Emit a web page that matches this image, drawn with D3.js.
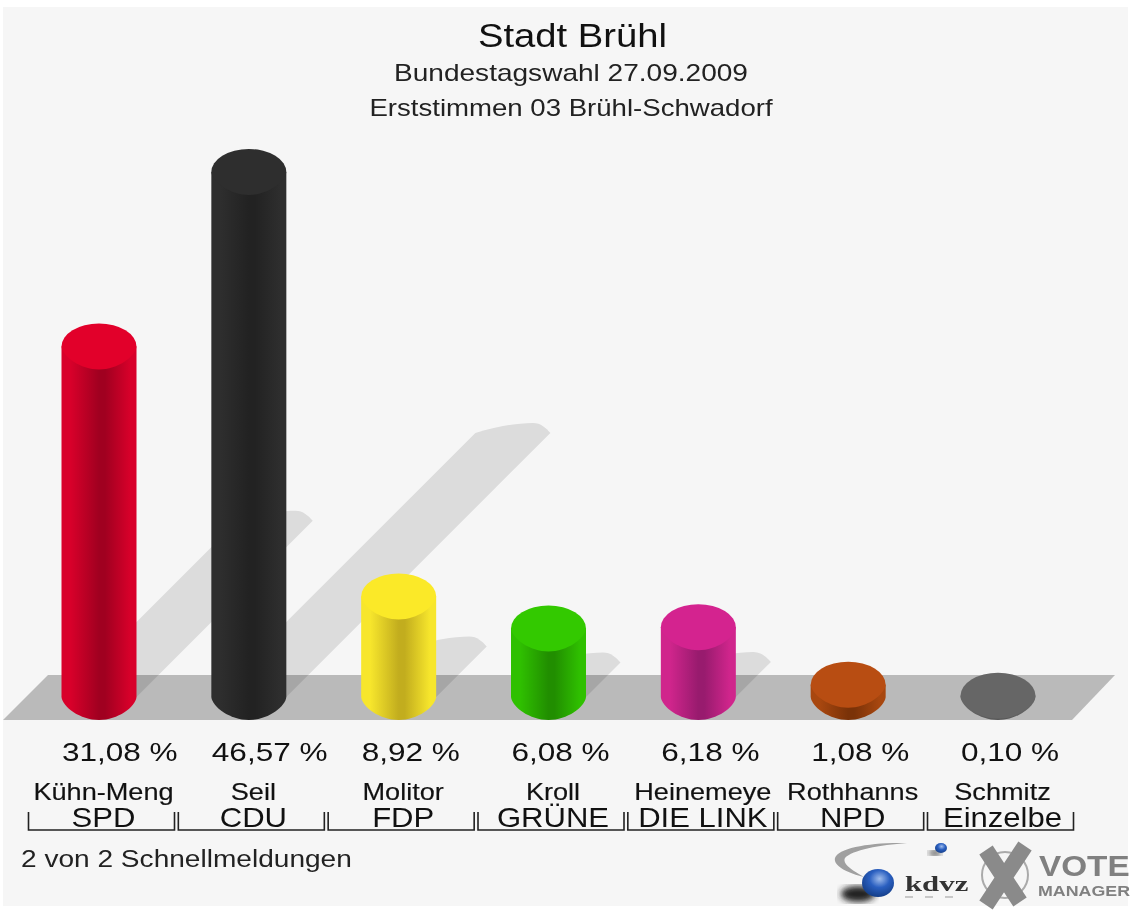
<!DOCTYPE html>
<html><head><meta charset="utf-8">
<script src="https://cdn.jsdelivr.net/npm/d3@7"></script>
<style>html,body{margin:0;padding:0;background:#fff}svg{display:block;filter:blur(0.55px)}text{font-family:"Liberation Sans",Arial,sans-serif}</style>
</head><body><svg id="c" width="1131" height="913"></svg>
<script>
const titleLines = ["Stadt Brühl","Bundestagswahl 27.09.2009","Erststimmen 03 Brühl-Schwadorf"];
const candidates = ["Kühn-Meng","Seil","Molitor","Kroll","Heinemeye","Rothhanns","Schmitz"];
const parties = ["SPD","CDU","FDP","GRÜNE","DIE LINK","NPD","Einzelbe"];
const values = [31.08,46.57,8.92,6.08,6.18,1.08,0.10];
const valueLabels = ["31,08 %","46,57 %","8,92 %","6,08 %","6,18 %","1,08 %","0,10 %"];
const capColors = ["#e2002a","#2e2e2e","#fbe928","#33c900","#d4238f","#b84d12","#666666"];
const edgeColors = ["#d8002a","#2e2e2e","#f7e62c","#2fc000","#d0258c","#a8470f","#666666"];
const midColors = ["#a00020","#222222","#c2ad1e","#218e00","#981b6e","#7a3208","#555555"];
const footer = "2 von 2 Schnellmeldungen";

const svg = d3.select("#c");
const defs = svg.append("defs");
const x = d3.scalePoint().domain(parties).range([99,998]);
const y = d3.scaleLinear().domain([0,46.57]).range([697,172]);
const rx = 37.5, ry = 23;

// Text stretched horizontally, as in the upscaled reference
function label(parent, str, tx, ty, size, sx, anchor, fill, weight){
  return parent.append("text")
    .attr("transform",`translate(${tx},${ty}) scale(${sx},1)`)
    .attr("text-anchor",anchor||"middle")
    .attr("font-size",size)
    .attr("fill",fill||"#111")
    .attr("font-weight",weight||"normal")
    .text(str);
}
// lower half of a cross-section: convex, slightly flatter than an ellipse
const lowerCurve = (cx,b)=>`C${cx+rx-1},${b+10} ${cx+rx*0.5},${b+ry} ${cx},${b+ry}C${cx-rx*0.5},${b+ry} ${cx-rx+1},${b+10} ${cx-rx},${b}`;

svg.append("rect").attr("width",1131).attr("height",913).attr("fill","#fff");
svg.append("rect").attr("x",3).attr("y",7).attr("width",1125).attr("height",899).attr("fill","#f6f6f6");

// title
const tg = svg.append("g");
label(tg,titleLines[0],572.5,47,34,1.125,"middle","#111");
label(tg,titleLines[1],571,81,23,1.22,"middle","#222");
label(tg,titleLines[2],571,116,23,1.2,"middle","#222");

// floor
svg.append("path").attr("d",d3.line()([[3,720],[48,675],[1115,675],[1072,720]])+"Z").attr("fill","#bababa");

// shadows
const shG = svg.append("g").attr("fill","#000").attr("fill-opacity",0.105);
parties.forEach((p,i)=>{
  if(values[i]<2) return;
  const h = y(0)-y(values[i]);
  const cx = x(p), d = h*0.503;
  const ex = cx+d, ey = y(0)-d;
  shG.append("path").attr("d",
   `M${cx-rx},${y(0)}L${ex-rx},${ey}`+
   `C${ex-18},${ey-6} ${ex+4},${ey-10} ${ex+20},${ey-10}`+
   `C${ex+28},${ey-10} ${ex+33},${ey-5} ${ex+rx},${ey}`+
   `L${cx+rx},${y(0)}Z`);
});

// bars
parties.forEach((p,i)=>{
  const id="g"+i;
  const g=defs.append("linearGradient").attr("id",id);
  [[0,edgeColors[i]],[.12,edgeColors[i]],[.5,midColors[i]],[.58,midColors[i]],[.92,edgeColors[i]],[1,edgeColors[i]]]
    .forEach(s=>g.append("stop").attr("offset",s[0]).attr("stop-color",s[1]));
  const cx=x(p), top=y(values[i]), base=y(0);
  const G=svg.append("g");
  G.append("path").attr("fill",`url(#${id})`).attr("d",
    `M${cx-rx},${top}L${cx+rx},${top}L${cx+rx},${base}${lowerCurve(cx,base)}Z`);
  G.append("path").attr("fill",capColors[i]).attr("d",
    `M${cx-rx},${top}A${rx},${ry} 0 0 1 ${cx+rx},${top}${lowerCurve(cx,top)}Z`);
});

// labels
const lab=svg.append("g");
parties.forEach((p,i)=>{
  const cx=x(p);
  label(lab,valueLabels[i],cx-37,761,26.5,1.19,"start");
  label(lab,candidates[i],cx+4.5,800,23,1.18,"middle").attr("stroke","#111").attr("stroke-width",0.15);
  label(lab,p,cx+4.5,827,27,1.15,"middle");
  const l=cx-70.5, r=cx+75.5;
  lab.append("path").attr("fill","none").attr("stroke","#222").attr("stroke-width",1.6)
    .attr("d",`M${l},812V830H${r}V812`);
});
label(svg,footer,21,867,24,1.17,"start","#222");

// logos
const lg=svg.append("g").attr("style","filter:blur(0.7px)");
const b=defs.append("radialGradient").attr("id","ball").attr("cx",.55).attr("cy",.35).attr("r",.7);
b.append("stop").attr("offset",0).attr("stop-color","#9fbcec");
b.append("stop").attr("offset",.45).attr("stop-color","#2a5fc0");
b.append("stop").attr("offset",1).attr("stop-color","#123a80");
const sh=defs.append("filter").attr("id","sb");sh.append("feGaussianBlur").attr("stdDeviation",3);
lg.append("path").attr("d","M907,843C870,842 838,848 835,858C833,866 848,873 864,877C852,870 842,864 845,858C852,850 880,845 907,843Z").attr("fill","#a0a0a0");
lg.append("ellipse").attr("cx",935).attr("cy",853).attr("rx",6).attr("ry",2.5).attr("fill","#222").attr("filter","url(#sb)");
lg.append("ellipse").attr("cx",941).attr("cy",848).attr("rx",6).attr("ry",5).attr("fill","url(#ball)");
lg.append("ellipse").attr("cx",858).attr("cy",894).attr("rx",17).attr("ry",8).attr("fill","#222").attr("filter","url(#sb)");
lg.append("ellipse").attr("cx",878).attr("cy",883).attr("rx",16).attr("ry",14).attr("fill","url(#ball)");
label(lg,"kdvz",905,891,22,1.4,"start","#333","bold").style("font-family","'Liberation Serif'");
lg.append("path").attr("fill","none").attr("stroke","#999").attr("stroke-width",1).attr("stroke-dasharray","8 12").attr("d","M905,897H965");
const xm=lg.append("g").attr("stroke","#8a8a8a").attr("fill","none");
xm.append("circle").attr("cx",1005).attr("cy",875).attr("r",23).attr("stroke-width",2).attr("stroke","#aaa");
xm.append("path").attr("stroke-width",16).attr("d","M986,850L1020,902M1025,846L986,905");
label(lg,"VOTE",1039,876,30,1.11,"start","#808080","bold");
label(lg,"MANAGER",1038,896,15.5,1.15,"start","#808080","bold");
</script></body></html>
